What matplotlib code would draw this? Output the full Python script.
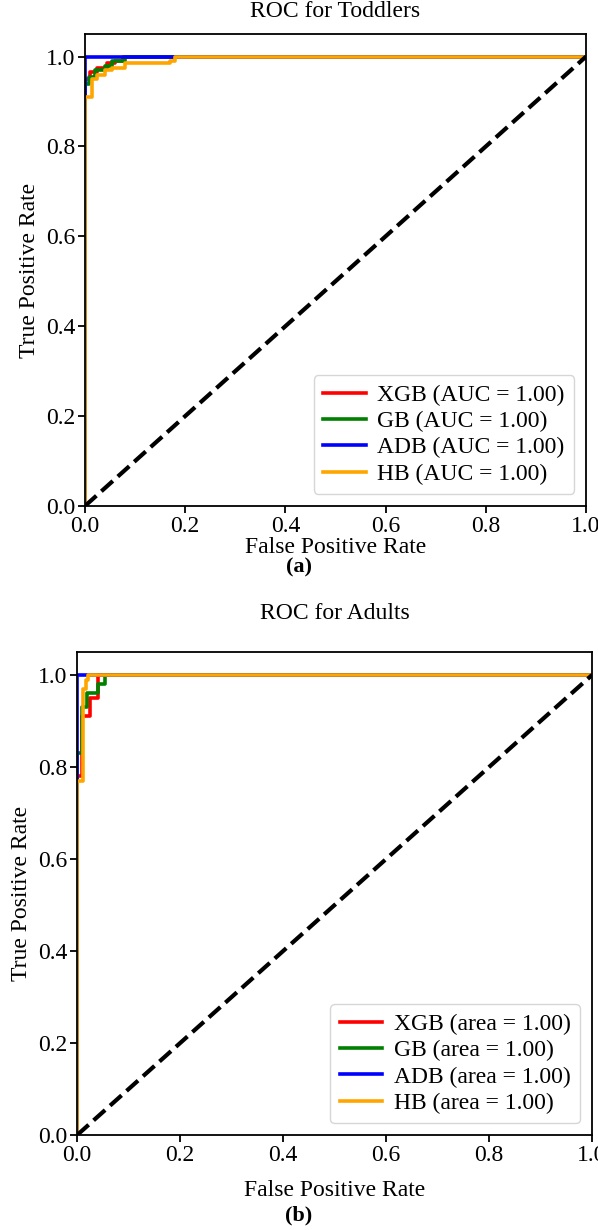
import numpy as np
import matplotlib.pyplot as plt

plt.rcParams['font.family'] = ['Liberation Serif', 'DejaVu Serif']

names = ['XGB', 'GB', 'ADB', 'HB']
colors = ['red', 'green', 'blue', 'orange']

# toddlers ROC points (fpr, tpr)
tod_fpr = {
    'XGB': [0, 0, 0.01, 0.01, 0.025, 0.025, 0.045, 0.045, 0.06, 0.06, 0.075, 0.075, 1],
    'GB': [0, 0, 0.008, 0.008, 0.02, 0.02, 0.04, 0.04, 0.055, 0.055, 0.08, 0.08, 1],
    'ADB': [0, 0, 0, 1],
    'HB': [0, 0, 0.015, 0.015, 0.025, 0.025, 0.04, 0.04, 0.055, 0.055, 0.08, 0.08,
           0.17, 0.17, 0.18, 0.18, 1],
}
tod_tpr = {
    'XGB': [0, 0.95, 0.95, 0.965, 0.965, 0.975, 0.975, 0.985, 0.985, 0.99, 0.99, 1.0, 1.0],
    'GB': [0, 0.94, 0.94, 0.955, 0.955, 0.97, 0.97, 0.98, 0.98, 0.99, 0.99, 1.0, 1.0],
    'ADB': [0, 0.91, 1.0, 1.0],
    'HB': [0, 0.91, 0.91, 0.95, 0.95, 0.96, 0.96, 0.97, 0.97, 0.975, 0.975, 0.985,
           0.985, 0.99, 0.99, 1.0, 1.0],
}

# adults ROC points (fpr, tpr)
adu_fpr = {
    'XGB': [0, 0, 0.01, 0.01, 0.025, 0.025, 0.04, 0.04, 1],
    'GB': [0, 0, 0.01, 0.01, 0.02, 0.02, 0.04, 0.04, 0.055, 0.055, 1],
    'ADB': [0, 0, 0, 1],
    'HB': [0, 0, 0.012, 0.012, 0.017, 0.017, 0.022, 0.022, 1],
}
adu_tpr = {
    'XGB': [0, 0.78, 0.78, 0.91, 0.91, 0.95, 0.95, 1.0, 1.0],
    'GB': [0, 0.83, 0.83, 0.93, 0.93, 0.96, 0.96, 0.98, 0.98, 1.0, 1.0],
    'ADB': [0, 0.83, 1.0, 1.0],
    'HB': [0, 0.77, 0.77, 0.97, 0.97, 0.99, 0.99, 1.0, 1.0],
}

ticks = [0.0, 0.2, 0.4, 0.6, 0.8, 1.0]

fig = plt.figure(figsize=(5.98, 12.3), dpi=100)
ax1 = fig.add_axes([0.142, 0.5886, 0.838, 0.3837])
ax2 = fig.add_axes([0.129, 0.0772, 0.861, 0.3927])


def draw(ax, fpr, tpr, title, word, tpad, xpad):
    for n, c in zip(names, colors):
        ax.plot(fpr[n], tpr[n], color=c, lw=2.6, label='%s (%s = 1.00)' % (n, word))
    ax.plot([0, 1], [0, 1], 'k--', lw=3)
    ax.set_xlim(0, 1)
    ax.set_ylim(0, 1.05)
    ax.set_xticks(ticks)
    ax.set_yticks(ticks)
    ax.set_xticklabels(['%.1f' % t for t in ticks])
    ax.set_yticklabels(['%.1f' % t for t in ticks])
    ax.tick_params(labelsize=17, length=5, width=1.3, pad=2)
    for s in ax.spines.values():
        s.set_linewidth(1.3)
    ax.set_xlabel('False Positive Rate', fontsize=17, labelpad=xpad)
    ax.set_ylabel('True Positive Rate', fontsize=17, labelpad=4)
    ax.set_title(title, fontsize=17, pad=tpad)
    ax.legend(loc='lower right', fontsize=17, handlelength=1.8, borderpad=0.4,
              labelspacing=0.2, handletextpad=0.5)


draw(ax1, tod_fpr, tod_tpr, 'ROC for Toddlers', 'AUC', 12, 0)
draw(ax2, adu_fpr, adu_tpr, 'ROC for Adults', 'area', 24, 10)

fig.text(0.5, 0.5385, '(a)', ha='center', va='center', fontsize=16, fontweight='bold')
fig.text(0.5, 0.0114, '(b)', ha='center', va='center', fontsize=16, fontweight='bold')

fig.savefig('out.png', dpi=100)
